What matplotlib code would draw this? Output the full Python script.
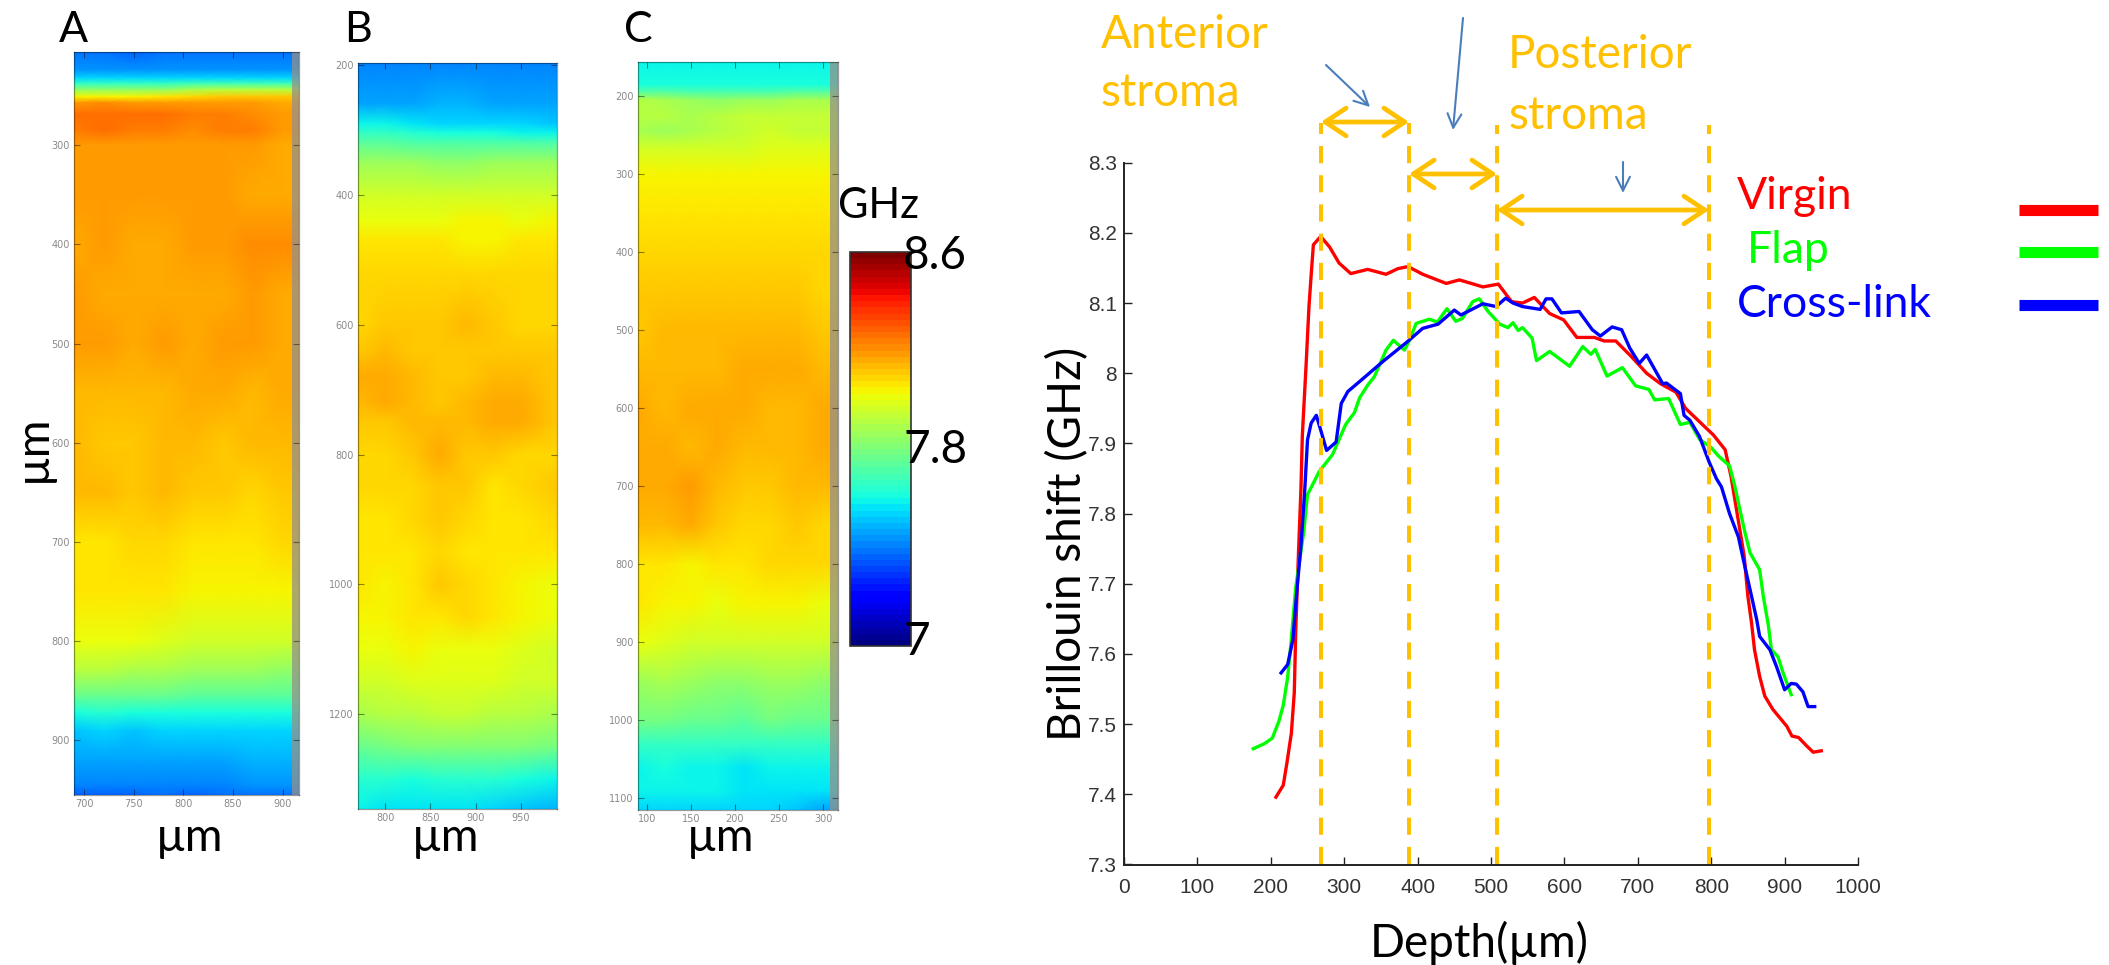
import numpy as np
import matplotlib
matplotlib.use("Agg")
import matplotlib.pyplot as plt
from matplotlib.patches import FancyArrowPatch
from matplotlib.colors import Normalize

W, H = 2109, 965
TXT = ['Lato', 'DejaVu Sans']
ORANGE = '#FFC000'
STEEL = '#4A7EBB'

# ---------- heat map values (GHz) ----------
A_depth = [206, 224, 232, 238, 244, 251, 257, 269, 285, 300, 350, 400, 450, 500, 550, 600, 650, 700, 750, 800, 830, 855, 872, 890, 920, 945, 955]
A_x = [690, 720, 750, 780, 810, 840, 870, 900, 916]
A_vals = [
 [7.38, 7.38, 7.37, 7.38, 7.38, 7.38, 7.38, 7.38, 7.38],
 [7.44, 7.44, 7.44, 7.43, 7.44, 7.44, 7.44, 7.44, 7.44],
 [7.53, 7.53, 7.53, 7.53, 7.54, 7.54, 7.54, 7.54, 7.54],
 [7.66, 7.66, 7.66, 7.66, 7.68, 7.68, 7.68, 7.68, 7.68],
 [7.84, 7.84, 7.85, 7.85, 7.88, 7.92, 7.92, 7.92, 7.92],
 [8.03, 8.03, 8.04, 8.05, 8.08, 8.11, 8.11, 8.11, 8.11],
 [8.20, 8.21, 8.20, 8.20, 8.20, 8.20, 8.18, 8.16, 8.16],
 [8.25, 8.26, 8.26, 8.25, 8.23, 8.23, 8.22, 8.19, 8.19],
 [8.24, 8.25, 8.24, 8.23, 8.22, 8.23, 8.23, 8.19, 8.19],
 [8.20, 8.20, 8.19, 8.18, 8.18, 8.20, 8.19, 8.17, 8.17],
 [8.19, 8.19, 8.18, 8.18, 8.18, 8.19, 8.16, 8.17, 8.17],
 [8.17, 8.19, 8.16, 8.17, 8.20, 8.19, 8.21, 8.22, 8.22],
 [8.18, 8.17, 8.17, 8.16, 8.17, 8.17, 8.18, 8.17, 8.17],
 [8.18, 8.18, 8.17, 8.18, 8.17, 8.18, 8.18, 8.17, 8.17],
 [8.14, 8.14, 8.13, 8.14, 8.15, 8.15, 8.14, 8.15, 8.15],
 [8.14, 8.12, 8.12, 8.14, 8.14, 8.12, 8.13, 8.13, 8.13],
 [8.13, 8.14, 8.11, 8.14, 8.12, 8.11, 8.10, 8.11, 8.11],
 [8.07, 8.07, 8.08, 8.10, 8.06, 8.05, 8.05, 8.08, 8.08],
 [8.06, 8.06, 8.06, 8.05, 8.04, 8.03, 8.03, 8.03, 8.03],
 [8.01, 8.02, 8.00, 7.98, 7.97, 7.96, 7.96, 7.95, 7.95],
 [7.90, 7.90, 7.89, 7.88, 7.87, 7.86, 7.86, 7.85, 7.85],
 [7.75, 7.76, 7.75, 7.75, 7.74, 7.74, 7.74, 7.73, 7.73],
 [7.62, 7.63, 7.62, 7.62, 7.62, 7.62, 7.62, 7.62, 7.62],
 [7.51, 7.53, 7.52, 7.53, 7.54, 7.54, 7.54, 7.53, 7.53],
 [7.46, 7.47, 7.47, 7.46, 7.45, 7.47, 7.48, 7.48, 7.48],
 [7.41, 7.41, 7.42, 7.42, 7.40, 7.42, 7.44, 7.44, 7.44],
 [7.36, 7.36, 7.37, 7.38, 7.36, 7.38, 7.38, 7.38, 7.38],
]

B_depth = [197, 260, 290, 305, 320, 350, 400, 440, 470, 520, 600, 640, 680, 720, 750, 800, 850, 900, 950, 1000, 1050, 1100, 1150, 1200, 1250, 1300, 1346]
B_x = [770, 800, 830, 860, 890, 920, 950, 990]
B_vals = [
 [7.42, 7.42, 7.42, 7.42, 7.42, 7.42, 7.42, 7.42],
 [7.46, 7.46, 7.47, 7.48, 7.48, 7.47, 7.46, 7.46],
 [7.59, 7.58, 7.56, 7.55, 7.55, 7.54, 7.53, 7.52],
 [7.66, 7.65, 7.63, 7.62, 7.62, 7.61, 7.60, 7.59],
 [7.74, 7.73, 7.72, 7.72, 7.72, 7.71, 7.71, 7.72],
 [7.86, 7.86, 7.86, 7.85, 7.85, 7.86, 7.86, 7.86],
 [7.96, 7.96, 7.97, 7.97, 7.97, 7.97, 7.97, 7.97],
 [8.02, 8.02, 8.02, 8.02, 8.03, 8.03, 8.02, 8.03],
 [8.06, 8.07, 8.07, 8.05, 8.04, 8.04, 8.06, 8.07],
 [8.09, 8.09, 8.10, 8.08, 8.08, 8.08, 8.09, 8.09],
 [8.10, 8.11, 8.11, 8.11, 8.13, 8.12, 8.10, 8.10],
 [8.12, 8.13, 8.12, 8.11, 8.11, 8.11, 8.11, 8.11],
 [8.15, 8.16, 8.13, 8.12, 8.12, 8.13, 8.13, 8.12],
 [8.13, 8.15, 8.13, 8.12, 8.14, 8.16, 8.15, 8.12],
 [8.11, 8.12, 8.14, 8.14, 8.13, 8.17, 8.16, 8.12],
 [8.08, 8.10, 8.11, 8.15, 8.11, 8.12, 8.10, 8.10],
 [8.08, 8.09, 8.08, 8.11, 8.11, 8.07, 8.08, 8.11],
 [8.06, 8.07, 8.09, 8.11, 8.08, 8.06, 8.07, 8.10],
 [8.07, 8.05, 8.05, 8.09, 8.06, 8.05, 8.05, 8.05],
 [8.05, 8.04, 8.05, 8.11, 8.10, 8.06, 8.04, 8.02],
 [8.03, 8.03, 8.05, 8.05, 8.08, 8.05, 8.03, 8.00],
 [8.00, 8.01, 8.03, 8.02, 8.01, 8.01, 7.99, 7.97],
 [7.95, 7.96, 7.98, 7.99, 7.99, 7.98, 7.97, 7.95],
 [7.88, 7.90, 7.92, 7.93, 7.93, 7.92, 7.91, 7.89],
 [7.77, 7.79, 7.80, 7.81, 7.81, 7.82, 7.81, 7.79],
 [7.64, 7.63, 7.62, 7.63, 7.63, 7.64, 7.61, 7.59],
 [7.58, 7.56, 7.56, 7.56, 7.57, 7.55, 7.52, 7.48],
]

C_depth = [156, 185, 195, 205, 225, 245, 265, 300, 350, 400, 450, 500, 550, 600, 650, 700, 750, 800, 850, 900, 950, 1000, 1030, 1060, 1090, 1115]
C_x = [90, 120, 150, 180, 210, 240, 270, 300, 317]
C_vals = [
 [7.58, 7.59, 7.59, 7.59, 7.59, 7.59, 7.59, 7.59, 7.59],
 [7.61, 7.61, 7.61, 7.61, 7.61, 7.61, 7.61, 7.61, 7.61],
 [7.74, 7.74, 7.72, 7.72, 7.72, 7.72, 7.74, 7.74, 7.74],
 [7.90, 7.88, 7.86, 7.85, 7.86, 7.87, 7.88, 7.88, 7.88],
 [7.92, 7.90, 7.89, 7.91, 7.93, 7.94, 7.93, 7.93, 7.93],
 [7.89, 7.87, 7.88, 7.91, 7.93, 7.95, 7.94, 7.94, 7.94],
 [7.96, 7.95, 7.95, 7.96, 7.97, 7.99, 7.98, 7.98, 7.98],
 [8.04, 8.03, 8.03, 8.04, 8.04, 8.04, 8.04, 8.03, 8.03],
 [8.06, 8.06, 8.06, 8.06, 8.05, 8.06, 8.06, 8.06, 8.06],
 [8.09, 8.09, 8.09, 8.08, 8.09, 8.09, 8.09, 8.09, 8.09],
 [8.11, 8.11, 8.11, 8.11, 8.11, 8.11, 8.11, 8.10, 8.10],
 [8.12, 8.14, 8.14, 8.13, 8.13, 8.13, 8.13, 8.12, 8.12],
 [8.13, 8.14, 8.14, 8.13, 8.15, 8.15, 8.16, 8.13, 8.13],
 [8.15, 8.14, 8.15, 8.15, 8.17, 8.14, 8.14, 8.15, 8.15],
 [8.15, 8.15, 8.13, 8.16, 8.14, 8.13, 8.13, 8.16, 8.16],
 [8.15, 8.17, 8.18, 8.14, 8.11, 8.12, 8.13, 8.13, 8.13],
 [8.13, 8.14, 8.16, 8.12, 8.10, 8.10, 8.11, 8.10, 8.10],
 [8.07, 8.05, 8.03, 8.05, 8.07, 8.09, 8.10, 8.08, 8.08],
 [8.06, 8.03, 8.03, 8.02, 8.03, 8.03, 8.03, 8.02, 8.02],
 [8.02, 7.98, 7.97, 7.95, 7.95, 7.96, 7.96, 7.95, 7.95],
 [7.87, 7.88, 7.87, 7.84, 7.84, 7.87, 7.86, 7.84, 7.84],
 [7.78, 7.78, 7.77, 7.75, 7.74, 7.78, 7.77, 7.75, 7.75],
 [7.66, 7.67, 7.67, 7.66, 7.66, 7.67, 7.67, 7.66, 7.66],
 [7.60, 7.61, 7.60, 7.58, 7.57, 7.60, 7.60, 7.59, 7.59],
 [7.59, 7.59, 7.59, 7.58, 7.57, 7.57, 7.56, 7.56, 7.56],
 [7.55, 7.53, 7.54, 7.55, 7.55, 7.55, 7.50, 7.47, 7.47],
]

A_xticks = [700, 750, 800, 850, 900]
A_yticks = [300, 400, 500, 600, 700, 800, 900]
B_xticks = [800, 850, 900, 950]
B_yticks = [200, 400, 600, 800, 1000, 1200]
C_xticks = [100, 150, 200, 250, 300]
C_yticks = [200, 300, 400, 500, 600, 700, 800, 900, 1000, 1100]

# ---------- curves ----------
virgin_x = [207, 217, 222, 228, 232, 234, 238, 241, 243, 248, 252, 255, 258, 268, 280, 293, 309, 332, 357, 373, 387, 407, 439, 457, 489, 510, 528, 543, 559, 580, 599, 617, 641, 654, 670, 691, 712, 731, 752, 765, 789, 803, 819, 827, 836, 845, 850, 855, 859, 866, 873, 884, 903, 910, 919, 930, 939, 950]
virgin_y = [7.396, 7.413, 7.445, 7.487, 7.545, 7.634, 7.752, 7.833, 7.912, 8.01, 8.095, 8.14, 8.183, 8.195, 8.18, 8.157, 8.142, 8.148, 8.141, 8.149, 8.152, 8.141, 8.128, 8.133, 8.123, 8.127, 8.102, 8.1, 8.108, 8.085, 8.076, 8.051, 8.051, 8.046, 8.046, 8.024, 8.0, 7.985, 7.973, 7.95, 7.926, 7.912, 7.891, 7.853, 7.796, 7.739, 7.682, 7.644, 7.606, 7.568, 7.54, 7.521, 7.497, 7.483, 7.481, 7.469, 7.46, 7.462]
flap_x = [176, 191, 202, 211, 217, 223, 227, 234, 245, 250, 266, 284, 302, 314, 321, 332, 341, 357, 367, 382, 389, 398, 416, 427, 440, 452, 461, 475, 484, 496, 512, 523, 530, 537, 543, 556, 562, 580, 607, 625, 636, 642, 658, 679, 697, 715, 723, 742, 758, 771, 784, 800, 810, 825, 832, 839, 846, 853, 866, 871, 878, 882, 891, 898, 909]
flap_y = [7.465, 7.472, 7.48, 7.504, 7.527, 7.567, 7.61, 7.695, 7.775, 7.827, 7.86, 7.884, 7.927, 7.944, 7.965, 7.983, 7.995, 8.033, 8.047, 8.033, 8.047, 8.071, 8.077, 8.073, 8.092, 8.074, 8.078, 8.102, 8.106, 8.088, 8.07, 8.065, 8.072, 8.061, 8.065, 8.05, 8.018, 8.031, 8.01, 8.038, 8.027, 8.034, 7.996, 8.008, 7.982, 7.977, 7.962, 7.964, 7.927, 7.93, 7.906, 7.894, 7.882, 7.868, 7.84, 7.806, 7.773, 7.744, 7.72, 7.682, 7.64, 7.606, 7.596, 7.573, 7.542]
cross_x = [214, 223, 230, 236, 241, 246, 250, 255, 262, 268, 276, 289, 296, 305, 323, 353, 385, 407, 428, 450, 459, 489, 507, 520, 530, 543, 567, 575, 583, 596, 620, 638, 649, 665, 678, 689, 702, 712, 734, 739, 758, 763, 771, 784, 797, 807, 814, 825, 837, 846, 855, 862, 866, 880, 889, 900, 909, 916, 925, 932, 941]
cross_y = [7.573, 7.585, 7.62, 7.696, 7.753, 7.829, 7.905, 7.929, 7.94, 7.919, 7.89, 7.902, 7.957, 7.974, 7.99, 8.017, 8.044, 8.064, 8.07, 8.09, 8.083, 8.099, 8.095, 8.107, 8.1, 8.095, 8.091, 8.106, 8.106, 8.086, 8.088, 8.062, 8.053, 8.066, 8.062, 8.036, 8.014, 8.026, 7.985, 7.986, 7.971, 7.94, 7.933, 7.91, 7.874, 7.85, 7.838, 7.8, 7.767, 7.724, 7.682, 7.649, 7.625, 7.606, 7.582, 7.549, 7.558, 7.557, 7.546, 7.525, 7.525]

x_ticks = [0, 100, 200, 300, 400, 500, 600, 700, 800, 900, 1000]
y_ticks = [7.3, 7.4, 7.5, 7.6, 7.7, 7.8, 7.9, 8, 8.1, 8.2, 8.3]
y_tick_labels = ['7.3', '7.4', '7.5', '7.6', '7.7', '7.8', '7.9', '8', '8.1', '8.2', '8.3']
region_bounds = [268, 388, 508, 797]
series_names = ['Virgin', 'Flap', 'Cross-link']
series_colors = ['#FF0000', '#00FF00', '#0000FF']

fig = plt.figure(figsize=(W / 100, H / 100), dpi=100, facecolor='white')


def box(left, top, right, bottom):
    return [left / W, 1 - bottom / H, (right - left) / W, (bottom - top) / H]


cmap = plt.get_cmap('jet', 64)
norm = Normalize(7, 8.6)


def heat(rect, xs, depth, vals, xlim, ylim, xticks, yticks, strip_from=None):
    ax = fig.add_axes(box(*rect))
    mesh = ax.pcolormesh(xs, depth, np.array(vals), cmap=cmap, norm=norm,
                         shading='gouraud', rasterized=True)
    ax.set_xlim(*xlim)
    ax.set_ylim(*ylim)
    ax.set_xticks(xticks)
    ax.set_yticks(yticks)
    ax.tick_params(direction='in', length=4, width=0.8, color=(0, 0, 0, 0.45),
                   labelsize=7, labelcolor='#8a8a8a', pad=3,
                   top=True, right=True)
    for s in ax.spines.values():
        s.set_color((0, 0, 0, 0.4))
        s.set_linewidth(0.9)
    if strip_from is not None:
        ax.axvspan(strip_from, xlim[1], facecolor='#94908a', alpha=0.75, lw=0)
    return mesh


m = heat((74, 52, 298.6, 795), A_x, A_depth, A_vals, (690, 916), (955, 206), A_xticks, A_yticks, 909)
heat((358, 63, 557, 809), B_x, B_depth, B_vals, (770, 990), (1346, 197), B_xticks, B_yticks)
heat((638, 62, 838, 810), C_x, C_depth, C_vals, (90, 317), (1115, 156), C_xticks, C_yticks, 308)

cax = fig.add_axes(box(850, 252, 911, 646))
cb = fig.colorbar(m, cax=cax)
cb.set_ticks([])
cb.outline.set_edgecolor('#333333')
cb.outline.set_linewidth(1.2)

# ---------- line chart ----------
ax = fig.add_axes(box(1124, 162.7, 1858, 864.5))
ax.patch.set_alpha(0)
for xs, ys, c in zip((virgin_x, flap_x, cross_x), (virgin_y, flap_y, cross_y), series_colors):
    ax.plot(xs, ys, color=c, lw=2.4, solid_joinstyle='round', zorder=3, clip_on=False)
ax.set_xlim(0, 1000)
ax.set_ylim(7.3, 8.3)
ax.set_xticks(x_ticks)
ax.set_yticks(y_ticks)
ax.set_yticklabels(y_tick_labels)
ax.tick_params(direction='in', length=6, width=1.0, color='#222222', labelsize=15,
               labelcolor='#333333', pad=5)
for lab in ax.get_xticklabels() + ax.get_yticklabels():
    lab.set_fontfamily('Liberation Sans')
ax.tick_params(axis='x', pad=10)
for s in ('top', 'right'):
    ax.spines[s].set_visible(False)
for s in ('left', 'bottom'):
    ax.spines[s].set_linewidth(1.4)
    ax.spines[s].set_color('#222222')
for b, top in zip(region_bounds, (8.357, 8.357, 8.354, 8.354)):
    ax.plot([b, b], [7.3, top], color=ORANGE, lw=2.9, dashes=(4.25, 3),
            dash_capstyle='butt', clip_on=False, zorder=4)

# ---------- pixel overlay for annotations ----------
ov = fig.add_axes([0, 0, 1, 1], facecolor='none')
ov.set_xlim(0, W)
ov.set_ylim(H, 0)
ov.axis('off')


def txt(x, y, s, size, color='black', ha='left', rotation=0):
    ov.text(x, y, s, fontsize=size, color=color, ha=ha, va='baseline',
            family=TXT, rotation=rotation, rotation_mode='anchor')


for x, s in zip((59, 344, 624), 'ABC'):
    txt(x, 42, s, 31)
txt(46, 448, 'µm', 33, ha='center', rotation=90)
for x in (190, 446, 721):
    txt(x, 851, 'µm', 33, ha='center')
txt(838, 218, 'GHz', 30)
txt(903, 269, '8.6', 33)
txt(903, 463, '7.8', 33)
txt(903, 655, '7', 33)

txt(1101, 48, 'Anterior', 33, ORANGE)
txt(1101, 106, 'stroma', 33, ORANGE)
txt(1508, 68, 'Posterior', 33, ORANGE)
txt(1508, 129, 'stroma', 33, ORANGE)

txt(1081, 544, 'Brillouin shift (GHz)', 33, ha='center', rotation=90)
txt(1479, 957, 'Depth(µm)', 33, ha='center')

for (x0, y0, x1, y1) in ((1321, 122, 1409, 122), (1409, 174, 1497, 174), (1497, 210, 1709, 210)):
    ov.add_patch(FancyArrowPatch((x0, y0), (x1, y1), arrowstyle='<->,head_length=15,head_width=10',
                                 mutation_scale=1, color=ORANGE, lw=3.4, shrinkA=0, shrinkB=0, zorder=6))
for (x0, y0, x1, y1) in ((1326, 65, 1370, 107), (1463, 18, 1453, 130), (1623, 162, 1623, 193)):
    ov.add_patch(FancyArrowPatch((x0, y0), (x1, y1), arrowstyle='->,head_length=10,head_width=5',
                                 mutation_scale=1, color=STEEL, lw=1.5, shrinkA=0, shrinkB=0, zorder=6))

for name, c, tx, ty, ky in zip(series_names, series_colors, (1737, 1747, 1737), (209, 263, 317), (210, 252, 305)):
    txt(tx, ty, name, 32, c)
    ov.plot([2019, 2098], [ky, ky], color=c, lw=8, solid_capstyle='butt')

fig.savefig('out.png', dpi=100)
